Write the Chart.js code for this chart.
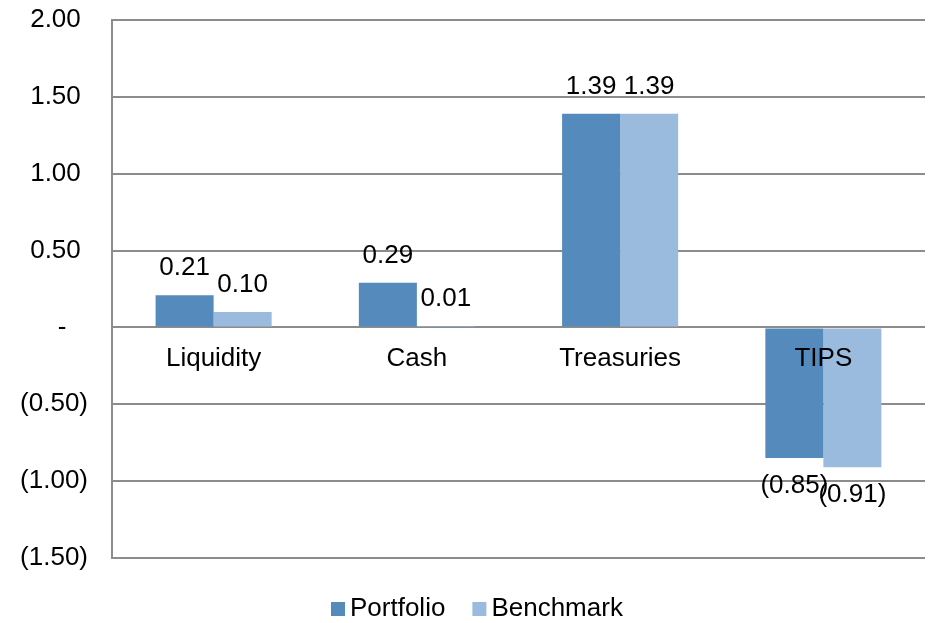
<!DOCTYPE html>
<html>
<head>
<meta charset="utf-8">
<script src="https://cdn.jsdelivr.net/npm/chart.js@4/dist/chart.umd.min.js"></script>
<style>
  html, body { margin: 0; padding: 0; background: #fff; }
  #wrap { width: 930px; height: 623px; }
</style>
</head>
<body>
<div id="wrap"><canvas id="chart" width="930" height="623"></canvas></div>
<script>
/* ---- data ---- */
const categories = ['Liquidity', 'Cash', 'Treasuries', 'TIPS'];
const portfolio  = [0.21, 0.29, 1.39, -0.85];
const benchmark  = [0.10, 0.01, 1.39, -0.91];
const yTicks     = [2.0, 1.5, 1.0, 0.5, 0, -0.5, -1.0, -1.5];

const FONT = "'Liberation Sans', Arial, sans-serif";

/* accounting style number: 1.50 / - / (0.50) */
function fmt(v) {
  if (Math.abs(v) < 1e-9) return '-';
  if (v < 0) return '(' + Math.abs(v).toFixed(2) + ')';
  return v.toFixed(2);
}
function tickFmt(v) {
  if (Math.abs(v) < 1e-9) return '-   ';
  if (v < 0) return fmt(v);
  return fmt(v) + ' ';
}

/* value labels above / below each bar */
const valueLabels = {
  id: 'valueLabels',
  afterDatasetsDraw(chart) {
    const ctx = chart.ctx;
    ctx.save();
    ctx.font = '26px ' + FONT;
    ctx.fillStyle = '#000';
    ctx.textAlign = 'center';
    ctx.textBaseline = 'middle';
    chart.data.datasets.forEach((ds, di) => {
      chart.getDatasetMeta(di).data.forEach((bar, i) => {
        const v = ds.data[i];
        const y = v >= 0 ? bar.y - 27 : bar.y + 28;
        ctx.fillText(fmt(v), bar.x, y);
      });
    });
    ctx.restore();
  }
};

/* category names sit just under the zero line */
const categoryLabels = {
  id: 'categoryLabels',
  afterDatasetsDraw(chart) {
    const ctx = chart.ctx;
    const xs = chart.scales.x, ys = chart.scales.y;
    const y0 = ys.getPixelForValue(0);
    ctx.save();
    ctx.font = '26px ' + FONT;
    ctx.fillStyle = '#000';
    ctx.textAlign = 'center';
    ctx.textBaseline = 'middle';
    categories.forEach((c, i) => {
      ctx.fillText(c, xs.getPixelForValue(i), y0 + 31);
    });
    ctx.restore();
  }
};

/* legend under the plot, Excel style spacing */
const bottomLegend = {
  id: 'bottomLegend',
  afterDraw(chart) {
    const ctx = chart.ctx;
    const cy = 609;
    let x = 331;
    ctx.save();
    ctx.font = '26px ' + FONT;
    ctx.textBaseline = 'middle';
    ctx.textAlign = 'left';
    chart.data.datasets.forEach(ds => {
      ctx.fillStyle = ds.backgroundColor;
      ctx.fillRect(x, cy - 7, 14, 14);
      ctx.fillStyle = '#000';
      ctx.fillText(ds.label, x + 19, cy);
      x += 19 + ctx.measureText(ds.label).width + 27;
    });
    ctx.restore();
  }
};

new Chart(document.getElementById('chart'), {
  type: 'bar',
  data: {
    labels: categories,
    datasets: [
      { label: 'Portfolio', data: portfolio, backgroundColor: '#558BBC' },
      { label: 'Benchmark', data: benchmark, backgroundColor: '#9BBBDE' }
    ]
  },
  options: {
    responsive: false,
    animation: false,
    layout: { padding: { top: 20, right: 5, left: 0, bottom: 65 } },
    datasets: {
      bar: { barPercentage: 1, categoryPercentage: 0.571 }
    },
    plugins: {
      legend: { display: false },
      tooltip: { enabled: false }
    },
    scales: {
      x: { display: false },
      y: {
        min: -1.5, max: 2.0,
        afterBuildTicks: s => { s.ticks = yTicks.map(v => ({ value: v })); },
        afterFit: s => {
          s.width = 112;
          s.paddingTop = 0;
          s.paddingBottom = 0;
        },
        border: { color: '#8c8c8c', width: 2 },
        grid: { color: '#8c8c8c', lineWidth: 2, drawTicks: false },
        ticks: {
          padding: 24,
          color: '#000',
          font: { size: 26, family: FONT },
          callback: v => tickFmt(v)
        }
      }
    }
  },
  plugins: [valueLabels, categoryLabels, bottomLegend]
});
</script>
</body>
</html>
